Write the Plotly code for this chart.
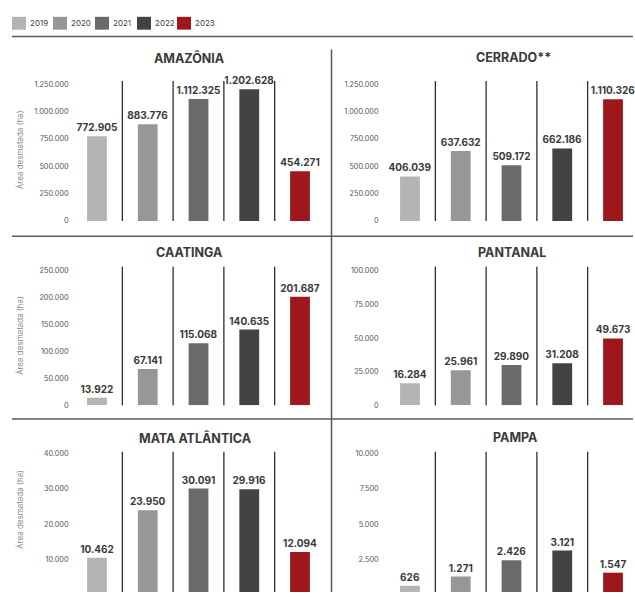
import plotly.graph_objects as go

W, H = 635, 597

years = ["2019", "2020", "2021", "2022", "2023"]
colors = ["#b4b4b4", "#979797", "#6a6a6a", "#434343", "#9e171d"]

regions = ["AMAZÔNIA", "CERRADO**", "CAATINGA", "PANTANAL", "MATA ATLÂNTICA", "PAMPA"]
amazonia = [772905, 883776, 1112325, 1202628, 454271]
cerrado = [406039, 637632, 509172, 662186, 1110326]
caatinga = [13922, 67141, 115068, 140635, 201687]
pantanal = [16284, 25961, 29890, 31208, 49673]
mata_atlantica = [10462, 23950, 30091, 29916, 12094]
pampa = [626, 1271, 2426, 3121, 1547]
series = [amazonia, cerrado, caatinga, pantanal, mata_atlantica, pampa]

axis_max = [1250000, 1250000, 250000, 100000, 40000, 10000]
axis_step = [250000, 250000, 50000, 25000, 10000, 2500]

y_title = "Área desmatada (ha)"

# layout geometry in pixels
cols = [(71.6, 325.4), (384.6, 638.4)]
standoff = [2, 5]
rows = [(80, 221.5, 83), (268, 408, 272), (455, 599.5, 457)]
title_pos = [(189, 57), (513, 56), (189, 253), (512, 253), (195, 441), (515, 441)]

def px(v):
    return v / W

def py(v):
    return 1 - v / H

fig = go.Figure()
layout = dict(
    width=W, height=H,
    margin=dict(l=0, r=0, t=0, b=0),
    paper_bgcolor="white", plot_bgcolor="white",
    separators=",.",
    showlegend=False,
    font=dict(family="Inter, sans-serif", color="#444"),
)
shapes = []
annotations = []

for i, (name, vals) in enumerate(zip(regions, series)):
    r, c = divmod(i, 2)
    xl, xr = cols[c]
    top, zero, maxpx = rows[r]
    spacing = (xr - xl) / 5
    xr_c = min(xr, W)
    bottom = min(zero, H)
    m = axis_max[i]
    val = lambda p: m * (zero - p) / (zero - maxpx)
    n = "" if i == 0 else str(i + 1)
    xa, ya = "x" + n, "y" + n
    layout["xaxis" + n] = dict(
        domain=[px(xl), px(xr_c)], range=[-0.5, -0.5 + (xr_c - xl) / spacing],
        anchor=ya, showticklabels=False, showgrid=False, zeroline=False,
        showline=False, ticks="", type="category", fixedrange=True,
    )
    layout["yaxis" + n] = dict(
        domain=[py(bottom), py(top)], range=[val(bottom), val(top)],
        anchor=xa, showgrid=False, zeroline=False, showline=False,
        tick0=0, dtick=axis_step[i], tickformat=",d", ticks="",
        tickfont=dict(size=7.3, color="#555", family="Inter, sans-serif"),
        ticklabelstandoff=standoff[c], fixedrange=True,
    )
    fig.add_trace(go.Bar(
        x=years, y=vals, xaxis=xa, yaxis=ya,
        marker=dict(color=colors, line=dict(width=0)),
        width=0.39,
        texttemplate="%{y:,d}", textposition="outside",
        constraintext="none", cliponaxis=False,
        textfont=dict(size=10, color="#3a3a3a", family="Inter, sans-serif", weight="bold"),
        hoverinfo="skip",
    ))
    for k in range(4):
        shapes.append(dict(type="line", xref=xa, yref=ya + " domain",
                           x0=k + 0.5, x1=k + 0.5, y0=0, y1=1,
                           line=dict(color="#2e2e2e", width=1.3)))
    tx, ty = title_pos[i]
    annotations.append(dict(text=f"<b>{name}</b>", xref="paper", yref="paper",
                            x=px(tx), y=py(ty), showarrow=False,
                            xanchor="center", yanchor="middle",
                            font=dict(size=12.5, color="#3a3a3a", family="Inter, sans-serif")))

# y-axis titles (left column)
for ty in [150, 338, 514]:
    annotations.append(dict(text=y_title, xref="paper", yref="paper",
                            x=px(20), y=py(ty), showarrow=False, textangle=-90,
                            xanchor="center", yanchor="middle",
                            font=dict(size=8, color="#888", family="Inter, sans-serif")))

# legend
leg_x = [12, 53, 95, 137, 177]
for yr, col, lx in zip(years, colors, leg_x):
    shapes.append(dict(type="rect", xref="paper", yref="paper",
                       x0=px(lx), x1=px(lx + 14), y0=py(28), y1=py(15),
                       fillcolor=col, line=dict(width=0)))
    annotations.append(dict(text=yr, xref="paper", yref="paper",
                            x=px(lx + 16), y=py(21.5), showarrow=False,
                            xanchor="left", yanchor="middle",
                            font=dict(size=8, color="#444", family="Inter, sans-serif")))

# divider lines
for yy in [35, 237, 422]:
    shapes.append(dict(type="line", xref="paper", yref="paper",
                       x0=px(12), x1=px(633), y0=py(yy), y1=py(yy),
                       line=dict(color="#5a5a5a", width=1.5)))
shapes.append(dict(type="line", xref="paper", yref="paper",
                   x0=px(331.5), x1=px(331.5), y0=py(48), y1=py(597),
                   line=dict(color="#5a5a5a", width=1.5)))

layout["shapes"] = shapes
layout["annotations"] = annotations
fig.update_layout(**layout)
fig.write_html("out.html")
